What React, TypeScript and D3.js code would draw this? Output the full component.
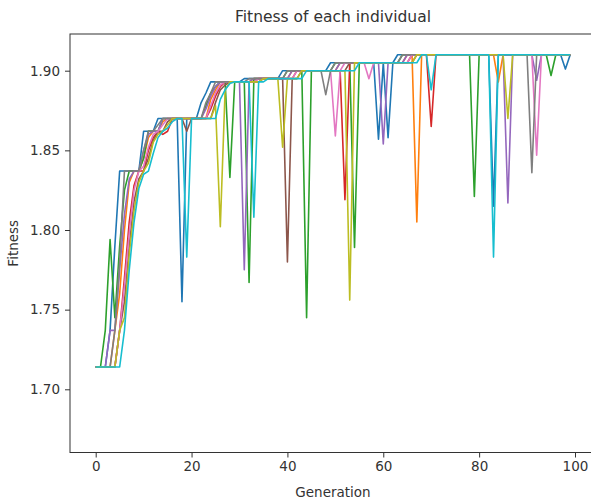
import React, { useEffect, useRef } from "react";
import * as d3 from "d3";

// fitness per generation, one array per individual (matplotlib tab10 order)
const blueFit = [
  1.714, 1.714, 1.714, 1.737, 1.79, 1.837, 1.837, 1.837, 1.837, 1.837,
  1.862, 1.862, 1.862, 1.87, 1.87, 1.87, 1.87, 1.87, 1.755, 1.87,
  1.87, 1.87, 1.88, 1.886, 1.893, 1.893, 1.893, 1.893, 1.893, 1.893,
  1.893, 1.895, 1.895, 1.895, 1.895, 1.895, 1.895, 1.895, 1.895, 1.9,
  1.9, 1.9, 1.9, 1.9, 1.9, 1.9, 1.9, 1.9, 1.9, 1.905,
  1.905, 1.905, 1.905, 1.905, 1.905, 1.905, 1.905, 1.905, 1.905, 1.857,
  1.905, 1.858, 1.905, 1.91, 1.91, 1.91, 1.91, 1.91, 1.91, 1.91,
  1.91, 1.91, 1.91, 1.91, 1.91, 1.91, 1.91, 1.91, 1.91, 1.91,
  1.91, 1.91, 1.91, 1.815, 1.91, 1.91, 1.91, 1.91, 1.91, 1.91,
  1.91, 1.91, 1.91, 1.91, 1.91, 1.91, 1.91, 1.91, 1.901, 1.91,
];
const orangeFit = [
  1.714, 1.714, 1.714, 1.714, 1.737, 1.76, 1.8, 1.83, 1.837, 1.837,
  1.845, 1.858, 1.862, 1.862, 1.868, 1.87, 1.87, 1.87, 1.87, 1.87,
  1.87, 1.87, 1.87, 1.87, 1.882, 1.888, 1.893, 1.893, 1.893, 1.893,
  1.893, 1.893, 1.893, 1.895, 1.895, 1.895, 1.895, 1.895, 1.895, 1.895,
  1.895, 1.9, 1.9, 1.9, 1.9, 1.9, 1.9, 1.9, 1.9, 1.9,
  1.9, 1.905, 1.905, 1.905, 1.905, 1.905, 1.905, 1.905, 1.905, 1.905,
  1.905, 1.905, 1.905, 1.905, 1.905, 1.91, 1.91, 1.805, 1.91, 1.91,
  1.91, 1.91, 1.91, 1.91, 1.91, 1.91, 1.91, 1.91, 1.91, 1.91,
  1.91, 1.91, 1.91, 1.91, 1.893, 1.91, 1.91, 1.91, 1.91, 1.91,
  1.91, 1.91, 1.91, 1.91, 1.91, 1.91, 1.91, 1.91, 1.91, 1.91,
];
const greenFit = [
  1.714, 1.714, 1.737, 1.794, 1.745, 1.79, 1.825, 1.837, 1.837, 1.837,
  1.845, 1.862, 1.862, 1.862, 1.87, 1.87, 1.87, 1.87, 1.87, 1.87,
  1.87, 1.87, 1.87, 1.878, 1.886, 1.89, 1.893, 1.893, 1.833, 1.893,
  1.893, 1.893, 1.767, 1.895, 1.895, 1.895, 1.895, 1.895, 1.895, 1.895,
  1.9, 1.9, 1.9, 1.9, 1.745, 1.9, 1.9, 1.9, 1.9, 1.9,
  1.905, 1.905, 1.905, 1.905, 1.789, 1.905, 1.905, 1.905, 1.905, 1.905,
  1.905, 1.905, 1.905, 1.905, 1.91, 1.91, 1.91, 1.91, 1.91, 1.91,
  1.91, 1.91, 1.91, 1.91, 1.91, 1.91, 1.91, 1.91, 1.91, 1.821,
  1.91, 1.91, 1.91, 1.91, 1.91, 1.91, 1.91, 1.91, 1.91, 1.91,
  1.91, 1.91, 1.91, 1.91, 1.91, 1.897, 1.91, 1.91, 1.91, 1.91,
];
const redFit = [
  1.714, 1.714, 1.714, 1.714, 1.714, 1.737, 1.77, 1.805, 1.828, 1.837,
  1.837, 1.85, 1.858, 1.862, 1.86, 1.862, 1.87, 1.87, 1.87, 1.87,
  1.87, 1.87, 1.87, 1.87, 1.876, 1.884, 1.89, 1.893, 1.893, 1.893,
  1.893, 1.893, 1.893, 1.893, 1.895, 1.895, 1.895, 1.895, 1.895, 1.895,
  1.895, 1.895, 1.9, 1.9, 1.9, 1.9, 1.9, 1.9, 1.9, 1.9,
  1.9, 1.9, 1.819, 1.905, 1.905, 1.905, 1.905, 1.905, 1.905, 1.905,
  1.905, 1.905, 1.905, 1.905, 1.905, 1.905, 1.91, 1.91, 1.91, 1.91,
  1.865, 1.91, 1.91, 1.91, 1.91, 1.91, 1.91, 1.91, 1.91, 1.91,
  1.91, 1.91, 1.91, 1.91, 1.91, 1.91, 1.91, 1.91, 1.91, 1.91,
  1.91, 1.91, 1.91, 1.91, 1.91, 1.91, 1.91, 1.91, 1.91, 1.91,
];
const purpleFit = [
  1.714, 1.714, 1.714, 1.737, 1.737, 1.775, 1.81, 1.832, 1.837, 1.837,
  1.85, 1.86, 1.862, 1.862, 1.87, 1.87, 1.87, 1.87, 1.87, 1.87,
  1.87, 1.87, 1.87, 1.876, 1.884, 1.89, 1.893, 1.893, 1.893, 1.893,
  1.893, 1.775, 1.893, 1.895, 1.895, 1.895, 1.895, 1.895, 1.895, 1.895,
  1.895, 1.9, 1.9, 1.9, 1.9, 1.9, 1.9, 1.9, 1.9, 1.9,
  1.9, 1.905, 1.905, 1.905, 1.905, 1.905, 1.905, 1.905, 1.905, 1.905,
  1.854, 1.905, 1.905, 1.905, 1.905, 1.91, 1.91, 1.91, 1.91, 1.91,
  1.91, 1.91, 1.91, 1.91, 1.91, 1.91, 1.91, 1.91, 1.91, 1.91,
  1.91, 1.91, 1.91, 1.91, 1.91, 1.91, 1.817, 1.91, 1.91, 1.91,
  1.91, 1.91, 1.894, 1.91, 1.91, 1.91, 1.91, 1.91, 1.91, 1.91,
];
const brownFit = [
  1.714, 1.714, 1.714, 1.714, 1.714, 1.737, 1.755, 1.79, 1.818, 1.832,
  1.837, 1.845, 1.856, 1.862, 1.862, 1.868, 1.87, 1.87, 1.87, 1.862,
  1.87, 1.87, 1.87, 1.87, 1.87, 1.88, 1.888, 1.891, 1.893, 1.893,
  1.893, 1.893, 1.893, 1.893, 1.893, 1.895, 1.895, 1.895, 1.895, 1.895,
  1.78, 1.895, 1.895, 1.9, 1.9, 1.9, 1.9, 1.9, 1.9, 1.9,
  1.9, 1.9, 1.9, 1.905, 1.905, 1.905, 1.905, 1.905, 1.905, 1.905,
  1.905, 1.905, 1.905, 1.905, 1.905, 1.905, 1.905, 1.91, 1.91, 1.91,
  1.91, 1.91, 1.91, 1.91, 1.91, 1.91, 1.91, 1.91, 1.91, 1.91,
  1.91, 1.91, 1.91, 1.91, 1.91, 1.91, 1.91, 1.91, 1.91, 1.91,
  1.91, 1.91, 1.91, 1.91, 1.91, 1.91, 1.91, 1.91, 1.91, 1.91,
];
const pinkFit = [
  1.714, 1.714, 1.714, 1.714, 1.714, 1.737, 1.765, 1.798, 1.825, 1.837,
  1.84, 1.852, 1.86, 1.862, 1.866, 1.87, 1.87, 1.87, 1.87, 1.87,
  1.87, 1.87, 1.87, 1.87, 1.878, 1.886, 1.891, 1.893, 1.893, 1.893,
  1.893, 1.893, 1.893, 1.893, 1.895, 1.895, 1.895, 1.895, 1.895, 1.895,
  1.895, 1.895, 1.9, 1.9, 1.9, 1.9, 1.9, 1.9, 1.9, 1.9,
  1.859, 1.9, 1.905, 1.905, 1.905, 1.905, 1.905, 1.895, 1.905, 1.905,
  1.905, 1.905, 1.905, 1.905, 1.905, 1.905, 1.91, 1.91, 1.91, 1.91,
  1.91, 1.91, 1.91, 1.91, 1.91, 1.91, 1.91, 1.91, 1.91, 1.91,
  1.91, 1.91, 1.91, 1.91, 1.91, 1.91, 1.91, 1.91, 1.91, 1.91,
  1.91, 1.91, 1.847, 1.91, 1.91, 1.91, 1.91, 1.91, 1.91, 1.91,
];
const grayFit = [
  1.714, 1.714, 1.714, 1.714, 1.737, 1.78, 1.837, 1.837, 1.837, 1.837,
  1.85, 1.862, 1.862, 1.866, 1.87, 1.87, 1.87, 1.87, 1.87, 1.87,
  1.87, 1.87, 1.87, 1.88, 1.886, 1.893, 1.893, 1.893, 1.893, 1.893,
  1.893, 1.893, 1.895, 1.895, 1.895, 1.895, 1.895, 1.895, 1.895, 1.895,
  1.9, 1.9, 1.9, 1.9, 1.9, 1.9, 1.9, 1.9, 1.885, 1.9,
  1.905, 1.905, 1.905, 1.905, 1.905, 1.905, 1.905, 1.905, 1.905, 1.905,
  1.905, 1.905, 1.905, 1.905, 1.91, 1.91, 1.91, 1.91, 1.91, 1.91,
  1.91, 1.91, 1.91, 1.91, 1.91, 1.91, 1.91, 1.91, 1.91, 1.91,
  1.91, 1.91, 1.91, 1.91, 1.91, 1.91, 1.91, 1.91, 1.91, 1.91,
  1.91, 1.836, 1.91, 1.91, 1.91, 1.91, 1.91, 1.91, 1.91, 1.91,
];
const oliveFit = [
  1.714, 1.714, 1.714, 1.714, 1.714, 1.737, 1.745, 1.785, 1.812, 1.83,
  1.837, 1.842, 1.855, 1.86, 1.862, 1.866, 1.87, 1.87, 1.87, 1.87,
  1.87, 1.87, 1.87, 1.87, 1.87, 1.878, 1.802, 1.888, 1.893, 1.893,
  1.893, 1.893, 1.893, 1.893, 1.893, 1.895, 1.895, 1.895, 1.895, 1.852,
  1.895, 1.895, 1.895, 1.9, 1.9, 1.9, 1.9, 1.9, 1.9, 1.9,
  1.9, 1.9, 1.9, 1.756, 1.905, 1.905, 1.905, 1.905, 1.905, 1.905,
  1.905, 1.905, 1.905, 1.905, 1.905, 1.905, 1.905, 1.91, 1.91, 1.91,
  1.91, 1.91, 1.91, 1.91, 1.91, 1.91, 1.91, 1.91, 1.91, 1.91,
  1.91, 1.91, 1.91, 1.91, 1.91, 1.91, 1.87, 1.91, 1.91, 1.91,
  1.91, 1.91, 1.91, 1.91, 1.91, 1.91, 1.91, 1.91, 1.91, 1.91,
];
const cyanFit = [
  1.714, 1.714, 1.714, 1.714, 1.714, 1.714, 1.737, 1.775, 1.805, 1.826,
  1.835, 1.837, 1.848, 1.858, 1.862, 1.864, 1.868, 1.87, 1.87, 1.783,
  1.87, 1.87, 1.87, 1.87, 1.87, 1.87, 1.882, 1.888, 1.892, 1.893,
  1.893, 1.893, 1.893, 1.808, 1.893, 1.893, 1.895, 1.895, 1.895, 1.895,
  1.895, 1.895, 1.895, 1.895, 1.9, 1.9, 1.9, 1.9, 1.9, 1.9,
  1.9, 1.9, 1.9, 1.9, 1.9, 1.905, 1.905, 1.905, 1.905, 1.905,
  1.905, 1.905, 1.905, 1.905, 1.905, 1.905, 1.905, 1.905, 1.91, 1.91,
  1.888, 1.91, 1.91, 1.91, 1.91, 1.91, 1.91, 1.91, 1.91, 1.91,
  1.91, 1.91, 1.91, 1.783, 1.91, 1.91, 1.91, 1.91, 1.91, 1.91,
  1.91, 1.91, 1.91, 1.91, 1.91, 1.91, 1.91, 1.91, 1.91, 1.91,
];

const individuals = [
  blueFit, orangeFit, greenFit, redFit, purpleFit,
  brownFit, pinkFit, grayFit, oliveFit, cyanFit,
];
const lineColors = [
  "#1f77b4", "#ff7f0e", "#2ca02c", "#d62728", "#9467bd",
  "#8c564b", "#e377c2", "#7f7f7f", "#bcbd22", "#17becf",
];
const xTicks = [0, 20, 40, 60, 80, 100];
const yTicks = [1.7, 1.75, 1.8, 1.85, 1.9];

const width = 591;
const height = 502;
const plotLeft = 70;
const plotTop = 34;
const plotBottom = 452.5;
const plotRight = 596; // right spine falls just outside the picture
const font = "DejaVu Sans, sans-serif";
const ink = "#333";

const App = () => {
  const xAxisRef = useRef(null);
  const yAxisRef = useRef(null);

  const xScale = d3.scaleLinear().domain([0, 100]).range([95.7, 575]);
  const yScale = d3.scaleLinear().domain([1.7, 1.9]).range([389.3, 70.7]);

  const line = d3
    .line<number>()
    .x((_, i) => xScale(i))
    .y((d) => yScale(d));

  useEffect(() => {
    const xAxis = d3
      .axisBottom(xScale)
      .tickValues(xTicks)
      .tickSize(5)
      .tickPadding(4)
      .tickFormat((d) => String(d));
    d3.select(xAxisRef.current)
      .call(xAxis)
      .call((g) => g.select(".domain").remove())
      .call((g) => g.selectAll(".tick line").attr("stroke", ink))
      .call((g) =>
        g
          .selectAll(".tick text")
          .attr("fill", ink)
          .style("font-family", font)
          .style("font-size", "13.5px"),
      );

    const yAxis = d3
      .axisLeft(yScale)
      .tickValues(yTicks)
      .tickSize(5)
      .tickPadding(5)
      .tickFormat(d3.format(".2f"));
    d3.select(yAxisRef.current)
      .call(yAxis)
      .call((g) => g.select(".domain").remove())
      .call((g) => g.selectAll(".tick line").attr("stroke", ink))
      .call((g) =>
        g
          .selectAll(".tick text")
          .attr("fill", ink)
          .style("font-family", font)
          .style("font-size", "13.5px"),
      );
  }, []);

  return (
    <svg
      width={width}
      height={height}
      style={{ position: "absolute", left: 0, top: 0, background: "#fff" }}
    >
      <defs>
        <clipPath id="plot-area">
          <rect
            x={plotLeft}
            y={plotTop}
            width={plotRight - plotLeft}
            height={plotBottom - plotTop}
          />
        </clipPath>
      </defs>

      <g clipPath="url(#plot-area)">
        {individuals.map((fit, i) => (
          <path
            key={i}
            d={line(fit) ?? ""}
            fill="none"
            stroke={lineColors[i]}
            strokeWidth={1.6}
            strokeLinejoin="round"
          />
        ))}
      </g>

      {/* spines */}
      <rect
        x={plotLeft}
        y={plotTop}
        width={plotRight - plotLeft}
        height={plotBottom - plotTop}
        fill="none"
        stroke={ink}
        strokeWidth={1}
      />

      <g ref={xAxisRef} transform={`translate(0,${plotBottom})`} />
      <g ref={yAxisRef} transform={`translate(${plotLeft},0)`} />

      <text
        x={(plotLeft + plotRight) / 2}
        y={22}
        textAnchor="middle"
        fontFamily={font}
        fontSize={15.5}
        fill={ink}
      >
        Fitness of each individual
      </text>
      <text
        x={(plotLeft + plotRight) / 2}
        y={497}
        textAnchor="middle"
        fontFamily={font}
        fontSize={13.5}
        fill={ink}
      >
        Generation
      </text>
      <text
        transform={`translate(18,${(plotTop + plotBottom) / 2}) rotate(-90)`}
        textAnchor="middle"
        fontFamily={font}
        fontSize={13.5}
        fill={ink}
      >
        Fitness
      </text>
    </svg>
  );
};

export default App;
